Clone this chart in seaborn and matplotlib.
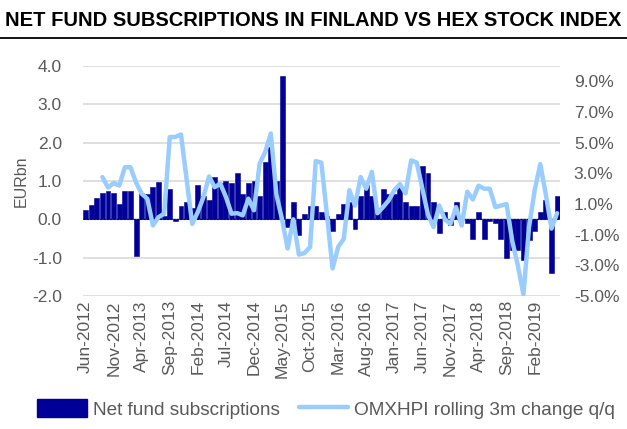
import numpy as np
import pandas as pd
import matplotlib
matplotlib.use('Agg')
import matplotlib.pyplot as plt
from matplotlib.lines import Line2D
from matplotlib.patches import Patch
from matplotlib.ticker import FuncFormatter
import seaborn as sns

# Monthly data, Jun-2012 .. Jun-2019
months = pd.date_range('2012-06-01', periods=85, freq='MS').strftime('%b-%Y')

# Net fund subscriptions, EURbn
subscriptions = [
    0.25, 0.38, 0.55, 0.70, 0.75, 0.68, 0.40, 0.75, 0.75, -0.95,
    0.70, 0.65, 0.85, 0.97, 0.10, 0.80, -0.05, 0.35, 0.45, 0.30,
    0.90, 0.60, 0.50, 1.10, 0.95, 1.00, 0.95, 1.20, 0.65, 0.95,
    1.00, 0.60, 1.50, 1.90, 1.00, 3.75, -0.20, 0.45, -0.40, 0.15,
    0.35, 0.35, 0.20, 0.10, -0.30, 0.15, 0.40, 0.45, -0.25, 0.60,
    0.90, 0.60, 0.30, 0.80, 0.65, 0.65, 0.90, 0.45, 0.35, 0.35,
    1.40, 1.20, 0.45, -0.35, 0.20, -0.15, 0.45, 0.10, -0.10, -0.50,
    0.20, -0.50, -0.05, -0.10, -0.50, -1.00, -0.80, -0.80, -1.07, -0.55,
    -0.30, 0.20, 0.50, -1.40, 0.62,
]

# OMXHPI rolling 3m change q/q, %
omxhpi = [
    np.nan, np.nan, np.nan, 2.76, 2.07, 2.37, 2.20, 3.40, 3.40, 2.40,
    1.67, 1.35, -0.40, 0.15, 0.37, 5.37, 5.37, 5.54, 2.60, -0.30,
    0.48, 1.45, 2.80, 2.10, 2.33, 1.46, 0.37, 0.41, 0.26, 1.35,
    0.59, 3.63, 4.40, 5.60, 1.60, 0.00, -1.90, 0.00, -2.30, -2.20,
    -1.80, 3.80, 3.70, 0.30, -3.20, -1.80, -1.26, 1.90, 0.90, 2.76,
    2.00, 3.10, 0.40, 0.80, 1.24, 1.90, 2.30, 1.70, 3.85, 3.70,
    2.00, 0.30, -0.50, 0.90, 0.00, -0.30, 0.80, -0.40, 1.80, 1.30,
    2.20, 2.00, 2.00, 0.80, 0.90, 1.00, -1.40, -3.00, -4.90, -0.50,
    1.90, 3.60, 1.60, -0.60, 0.40,
]

df = pd.DataFrame({'month': months, 'subs': subscriptions, 'omx': omxhpi})
df['pos'] = np.arange(len(df))

bar_color = '#000099'
line_color = '#99CCFF'
text_color = '#595959'

sns.set_style('white')
plt.rcParams['font.family'] = ['Liberation Sans', 'DejaVu Sans']

fig = plt.figure(figsize=(6.27, 4.29), dpi=100)
ax = fig.add_axes([0.132, 0.31, 0.761, 0.536])

sns.barplot(data=df, x='pos', y='subs', color=bar_color, width=0.88,
            saturation=1, edgecolor=bar_color, linewidth=0.4, ax=ax, zorder=2)
ax.axhline(0, color=bar_color, lw=0.8, ls=(0, (2, 1)), zorder=1)
ax.set_ylim(-2, 4)
ax.set_yticks(np.arange(-2, 4.1, 1))
ax.yaxis.set_major_formatter(FuncFormatter(lambda v, p: f'{v:.1f}'))
ax.grid(axis='y', color='#D9D9D9', lw=1.2, zorder=0)
ax.set_axisbelow(True)
ax.set_xlim(-0.5, len(df) - 0.5)
ax.set_xticks(df['pos'][::5])
ax.set_xticklabels(df['month'][::5], rotation=90)
ax.set_xlabel('')
ax.set_ylabel('EURbn', color=text_color, fontsize=11.5, labelpad=2)
ax.tick_params(axis='y', length=0, labelsize=12.5, colors=text_color, pad=15)
ax.tick_params(axis='x', length=0, labelsize=12.5, colors=text_color, pad=3)
for s in ax.spines.values():
    s.set_visible(False)

ax2 = ax.twinx()
sns.lineplot(data=df, x='pos', y='omx', color=line_color, lw=3.2, ax=ax2)
ax2.set_ylim(-5, 10)
ax2.set_yticks(np.arange(-5, 10, 2))
ax2.yaxis.set_major_formatter(FuncFormatter(lambda v, p: f'{v:.1f}%'))
ax2.set_xlim(-0.5, len(df) - 0.5)
ax2.set_ylabel('')
ax2.set_xlabel('')
ax2.tick_params(axis='y', length=0, labelsize=12.5, colors=text_color, pad=10)
for s in ax2.spines.values():
    s.set_visible(False)

# Title and rule
fig.text(0.008, 0.952, 'NET FUND SUBSCRIPTIONS IN FINLAND VS HEX STOCK INDEX',
         fontsize=14.5, fontweight='bold', color='black', va='center', ha='left')
fig.add_artist(Line2D([0.0, 1.0], [0.911, 0.911], color='black', lw=1.3))

handles = [Patch(facecolor=bar_color, edgecolor=bar_color),
           Line2D([0], [0], color=line_color, lw=3.2)]
fig.legend(handles, ['Net fund subscriptions', 'OMXHPI rolling 3m change q/q'],
           loc='center', bbox_to_anchor=(0.52, 0.047), ncol=2, frameon=False,
           fontsize=13.7, handlelength=2.6, handleheight=1.1, columnspacing=1.0,
           handletextpad=0.3, labelcolor=text_color)

fig.savefig('out.png', dpi=100)
